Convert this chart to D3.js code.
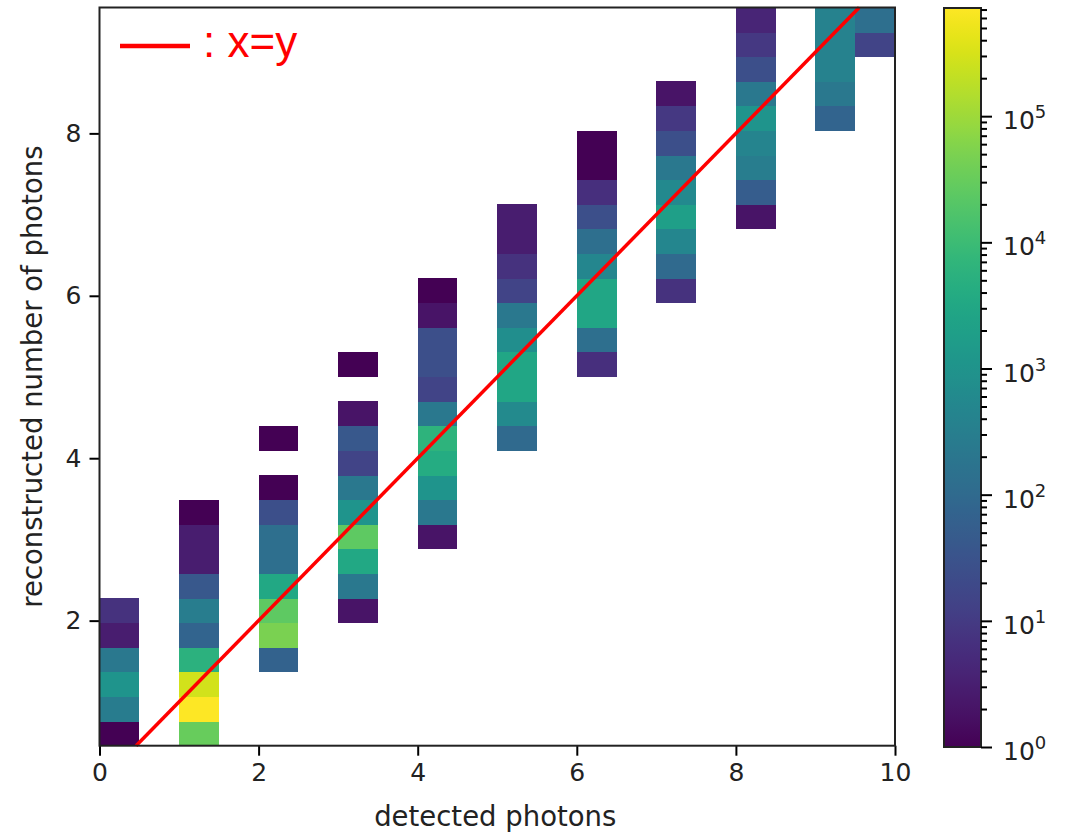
<!DOCTYPE html>
<html>
<head>
<meta charset="utf-8">
<script src="https://cdn.jsdelivr.net/npm/d3@7"></script>
<style>
  body { margin: 0; background: #fff; }
  svg text { font-family: "DejaVu Sans", sans-serif; }
</style>
</head>
<body>
<div id="chart"></div>
<script>
// detected photon numbers, one histogram column each
const detected = [0, 1, 2, 3, 4, 5, 6, 7, 8, 9, 10];
// lowest filled y bin of each column
const firstBin = [0, 0, 3, 5, 8, 12, 15, 18, 21, 25, 28];
// counts per y bin from firstBin upward (0 = empty bin)
const counts = [
  [1, 280, 1100, 220, 3, 7],
  [32000, 720000, 280000, 5600, 75, 290, 38, 3, 3, 1],
  [65, 49000, 25000, 3300, 130, 130, 26, 1, 0, 1],
  [2, 220, 3300, 25000, 1100, 220, 15, 38, 2, 0, 1],
  [2, 220, 1100, 4000, 6000, 220, 15, 26, 26, 2, 1],
  [100, 600, 2900, 2900, 740, 220, 15, 7, 3, 3],
  [6, 130, 2900, 2900, 500, 130, 26, 6, 1, 1],
  [7, 100, 500, 1900, 560, 220, 26, 9, 2],
  [2, 50, 290, 430, 1100, 220, 26, 9, 4],
  [75, 220, 400, 400, 400],
  [15, 130]
];
// histogram binning
const xRange = [0, 10];
const xBinWidth = 0.5;
const yRange = [0.46, 9.55];
const yBins = 30;
const xTicks = [0, 2, 4, 6, 8, 10];
const yTicks = [2, 4, 6, 8];

const width = 1076, height = 832;
const plot = { left: 99.5, right: 895, top: 7.5, bottom: 745.7 };
const cbar = { left: 944, right: 981, top: 8, bottom: 747 };

const svg = d3.select('#chart').append('svg')
  .attr('width', width)
  .attr('height', height);

const x = d3.scaleLinear().domain(xRange).range([plot.left, plot.right]);
const y = d3.scaleLinear().domain(yRange).range([plot.bottom, plot.top]);
const yStep = (yRange[1] - yRange[0]) / yBins;

// flatten into cells
const cells = [];
detected.forEach((d, i) => {
  const x0 = Math.min(Math.floor(d / xBinWidth) * xBinWidth, xRange[1] - xBinWidth);
  counts[i].forEach((c, j) => {
    if (c > 0) {
      const b = firstBin[i] + j;
      cells.push({ x0, x1: x0 + xBinWidth, y0: yRange[0] + b * yStep, y1: yRange[0] + (b + 1) * yStep, c });
    }
  });
});

const maxCount = d3.max(cells, d => d.c);
const color = d3.scaleSequentialLog(d3.interpolateViridis).domain([1, maxCount]);

svg.append('g').selectAll('rect')
  .data(cells)
  .enter().append('rect')
  .attr('x', d => x(d.x0))
  .attr('y', d => y(d.y1))
  .attr('width', d => x(d.x1) - x(d.x0))
  .attr('height', d => y(d.y0) - y(d.y1) + 0.5)
  .attr('fill', d => color(d.c))
  .attr('shape-rendering', 'crispEdges');

// x = y reference line
const line = d3.line().x(d => x(d)).y(d => y(d));
svg.append('path')
  .datum(yRange)
  .attr('d', line)
  .attr('fill', 'none')
  .attr('stroke', '#ff0000')
  .attr('stroke-width', 3.5);

// axes
const xAxis = svg.append('g')
  .attr('transform', `translate(0,${plot.bottom})`)
  .call(d3.axisBottom(x).tickValues(xTicks).tickSize(10).tickPadding(8).tickFormat(d3.format('d')));
const yAxis = svg.append('g')
  .attr('transform', `translate(${plot.left},0)`)
  .call(d3.axisLeft(y).tickValues(yTicks).tickSize(10).tickPadding(8).tickFormat(d3.format('d')));
[xAxis, yAxis].forEach(g => {
  g.select('.domain').remove();
  g.selectAll('line').attr('stroke', '#000').attr('stroke-width', 2);
  g.selectAll('text').attr('font-size', 25).attr('fill', '#222')
    .style('font-family', '"DejaVu Sans", sans-serif');
});

svg.append('rect')
  .attr('x', plot.left).attr('y', plot.top)
  .attr('width', plot.right - plot.left).attr('height', plot.bottom - plot.top)
  .attr('fill', 'none').attr('stroke', '#222').attr('stroke-width', 2);

svg.append('text')
  .attr('x', (plot.left + plot.right) / 2 - 2).attr('y', 826)
  .attr('text-anchor', 'middle').attr('font-size', 27.5).attr('fill', '#222')
  .text('detected photons');
svg.append('text')
  .attr('transform', `translate(42,${(plot.top + plot.bottom) / 2}) rotate(-90)`)
  .attr('text-anchor', 'middle').attr('font-size', 27.5).attr('fill', '#222')
  .text('reconstructed number of photons');

// legend
svg.append('line')
  .attr('x1', 120).attr('x2', 190).attr('y1', 46).attr('y2', 46)
  .attr('stroke', '#ff0000').attr('stroke-width', 4.5);
svg.append('text')
  .attr('x', 203).attr('y', 57)
  .attr('font-size', 44).attr('fill', '#ff0000')
  .style('font-family', '"Liberation Sans", Arial, sans-serif')
  .text(': x=y');

// colorbar
const defs = svg.append('defs');
const grad = defs.append('linearGradient')
  .attr('id', 'cgrad').attr('x1', 0).attr('x2', 0).attr('y1', 1).attr('y2', 0);
d3.range(0, 1.0001, 0.02).forEach(t => {
  grad.append('stop').attr('offset', t).attr('stop-color', d3.interpolateViridis(t));
});
svg.append('rect')
  .attr('x', cbar.left).attr('y', cbar.top)
  .attr('width', cbar.right - cbar.left).attr('height', cbar.bottom - cbar.top)
  .attr('fill', 'url(#cgrad)').attr('stroke', '#222').attr('stroke-width', 2);

const cScale = d3.scaleLog().domain([1, maxCount]).range([cbar.bottom, cbar.top]);
const majors = d3.range(0, Math.floor(Math.log10(maxCount)) + 1).map(k => Math.pow(10, k));
const minors = [];
majors.forEach(m => d3.range(2, 10).forEach(f => { if (m * f <= maxCount) minors.push(m * f); }));

const cMinor = svg.append('g')
  .attr('transform', `translate(${cbar.right},0)`)
  .call(d3.axisRight(cScale).tickValues(minors).tickSize(6).tickFormat(''));
const cMajor = svg.append('g')
  .attr('transform', `translate(${cbar.right},0)`)
  .call(d3.axisRight(cScale).tickValues(majors).tickSize(11).tickFormat(''));
[cMinor, cMajor].forEach(g => {
  g.select('.domain').remove();
  g.selectAll('line').attr('stroke', '#000').attr('stroke-width', 2);
});

const cLabels = svg.append('g').selectAll('text')
  .data(majors)
  .enter().append('text')
  .attr('x', 1003)
  .attr('y', d => cScale(d) + 13)
  .attr('font-size', 25).attr('fill', '#222');
cLabels.append('tspan').text('10');
cLabels.append('tspan')
  .attr('font-size', 18).attr('dy', -11)
  .text(d => Math.round(Math.log10(d)));
</script>
</body>
</html>
